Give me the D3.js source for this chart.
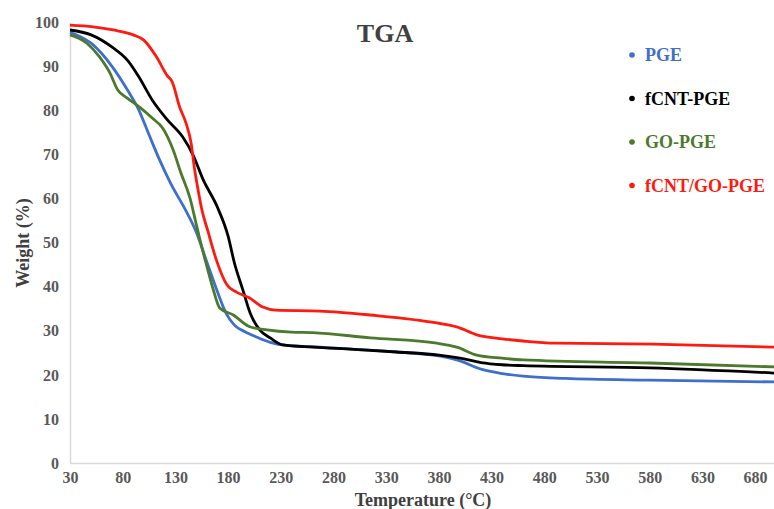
<!DOCTYPE html>
<html>
<head>
<meta charset="utf-8">
<script src="https://cdn.jsdelivr.net/npm/d3@7"></script>
<style>
  body { margin: 0; background: #fff; }
  text { font-family: "Liberation Serif", "DejaVu Serif", serif; font-weight: bold; }
</style>
</head>
<body>
<div id="chart"></div>
<script>
/* Temperature ticks along the bottom. */
const xTicks = [30, 80, 130, 180, 230, 280, 330, 380, 430, 480, 530, 580, 630, 680];
const yTicks = [0, 10, 20, 30, 40, 50, 60, 70, 80, 90, 100];

/* Series: [temperature °C, weight %]. */
const pge = [[30, 97.8], [50, 95.3], [70, 90], [85, 84.5], [95, 80.3], [105, 74.5], [115, 68.8], [125, 63.7],
  [141, 56.8], [150, 52.3], [160, 45.5], [170, 38.8], [178, 34], [186, 31.3], [196, 29.8], [207, 28.6],
  [220, 27.4], [235, 26.7], [260, 26.4], [300, 25.8], [340, 25.2], [380, 24.3], [400, 23.2],
  [420, 21.3], [440, 20.3], [460, 19.7], [500, 19.2], [580, 18.8], [700, 18.4]];
const fcntPge = [[30, 98.3], [50, 97.2], [70, 94.4], [85, 91.3], [95, 87.8], [108, 82.4], [122, 78],
  [137, 74], [147, 69.8], [156, 64.5], [170, 58], [180, 51.5], [186, 45.4], [194, 39.3], [201, 34],
  [210, 30.2], [220, 28.4], [232, 26.8], [260, 26.3], [300, 25.8], [340, 25.2], [380, 24.5],
  [400, 23.8], [420, 22.8], [440, 22.3], [460, 22.1], [580, 21.6], [700, 20.4]];
const goPge = [[30, 97.2], [46, 95.3], [58, 92.2], [68, 88.5], [75, 84.8], [84, 82.9], [96, 80.8],
  [108, 78.3], [118, 76], [128, 71], [135, 66], [144, 60], [149, 55], [154, 50], [160, 44.5],
  [166, 39.3], [172, 35.2], [185, 33.6], [200, 31], [217, 30.2], [240, 29.7], [260, 29.6],
  [315, 28.4], [378, 27.2], [397, 26.3], [416, 24.5], [440, 23.8], [460, 23.4], [580, 22.7], [700, 21.8]];
const fcntGoPge = [[30, 99.4], [52, 99], [71, 98.3], [90, 97.2], [100, 96], [112, 92.2], [122, 88],
  [127, 86.5], [134, 80.8], [140, 77.2], [145, 72.5], [148, 67], [151, 62.7], [155, 57.6], [161, 52.5],
  [169, 46], [179, 40.4], [188, 38.8], [200, 37.5], [213, 35.4], [225, 34.7], [267, 34.5],
  [315, 33.6], [378, 31.8], [397, 30.9], [416, 29.1], [440, 28.2], [460, 27.7], [490, 27.2],
  [583, 27], [700, 26.3]];

const seriesNames = ['PGE', 'fCNT-PGE', 'GO-PGE', 'fCNT/GO-PGE'];
const seriesColors = ['#3e6fcc', '#000000', '#4b7a2c', '#ff1a10'];
const seriesData = [pge, fcntPge, goPge, fcntGoPge];

const width = 774, height = 509;
const margin = { top: 22, right: 0, bottom: 46, left: 70 };

const svg = d3.select('#chart').append('svg')
  .attr('width', width)
  .attr('height', height);

const x = d3.scaleLinear()
  .domain([30, 700])
  .range([margin.left, margin.left + 670 * 1.054]);

const y = d3.scaleLinear()
  .domain([0, 100])
  .range([height - margin.bottom, margin.top + 0.5]);

// axes: light grey lines, no tick marks
const xAxis = d3.axisBottom(x).tickValues(xTicks).tickSize(0).tickPadding(9);
const gX = svg.append('g')
  .attr('transform', `translate(0, ${y(0)})`)
  .call(xAxis);
gX.select('.domain').attr('stroke', '#d9d9d9').attr('stroke-width', 1.5);
gX.selectAll('text')
  .attr('fill', '#595959')
  .style('font-size', '16px');

const yAxis = d3.axisLeft(y).tickValues(yTicks).tickSize(0).tickPadding(11);
const gY = svg.append('g')
  .attr('transform', `translate(${x(30)}, 0)`)
  .call(yAxis);
gY.select('.domain').attr('stroke', '#d9d9d9').attr('stroke-width', 1.5);
gY.selectAll('text')
  .attr('fill', '#595959')
  .style('font-size', '16px');

const line = d3.line()
  .x((d) => x(d[0]))
  .y((d) => y(d[1]))
  .curve(d3.curveMonotoneX);

seriesData.forEach((data, i) => {
  svg.append('path')
    .datum(data)
    .attr('fill', 'none')
    .attr('stroke', seriesColors[i])
    .attr('stroke-width', 2.8)
    .attr('stroke-linejoin', 'round')
    .attr('d', line);
});

// title
svg.append('text')
  .attr('x', 385)
  .attr('y', 42)
  .attr('text-anchor', 'middle')
  .attr('fill', '#404040')
  .style('font-size', '26px')
  .text('TGA');

// axis titles
svg.append('text')
  .attr('x', 423)
  .attr('y', 506)
  .attr('text-anchor', 'middle')
  .attr('fill', '#404040')
  .style('font-size', '18px')
  .text('Temperature (°C)');

svg.append('text')
  .attr('transform', 'translate(29, 243) rotate(-90)')
  .attr('text-anchor', 'middle')
  .attr('fill', '#404040')
  .style('font-size', '18px')
  .text('Weight (%)');

// legend
const legend = svg.append('g').attr('transform', 'translate(632, 55)');
seriesNames.forEach((name, i) => {
  const row = legend.append('g').attr('transform', `translate(0, ${i * 43.5})`);
  row.append('circle')
    .attr('r', 2.8)
    .attr('fill', seriesColors[i]);
  row.append('text')
    .attr('x', 13)
    .attr('y', 6)
    .attr('fill', seriesColors[i])
    .style('font-size', '18px')
    .text(name);
});
</script>
</body>
</html>
